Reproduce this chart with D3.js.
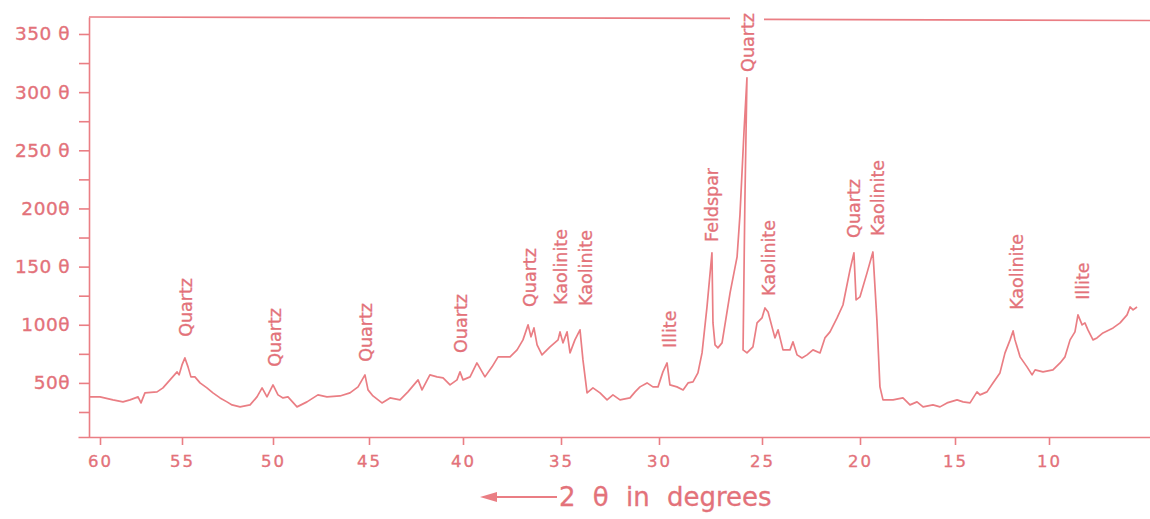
<!DOCTYPE html>
<html>
<head>
<meta charset="utf-8">
<script src="https://cdn.jsdelivr.net/npm/d3@7"></script>
<style>
  body { margin: 0; background: #fff; }
  svg { display: block; }
  .axis path, .axis line { stroke: #ea7e84; stroke-width: 1.6; }
  .axis text { fill: #e3727a; stroke: #e3727a; stroke-width: 0.35; font-family: "DejaVu Sans", sans-serif; }
  .peak { fill: #e3727a; stroke: #e3727a; stroke-width: 0.3; font-family: "DejaVu Sans", sans-serif; font-size: 17.5px; }
  .title { fill: #e3727a; stroke: #e3727a; stroke-width: 0.3; font-family: "DejaVu Sans", sans-serif; font-size: 26px; word-spacing: 9px; }
</style>
</head>
<body>
<svg width="1150" height="519"></svg>
<script>
// **** data ****

var twoTheta = [60.61, 60.0, 59.21, 58.6, 58.17, 57.68, 57.5, 57.26, 56.52, 56.16, 55.73, 55.3, 55.18, 55.0,
    54.84, 54.67, 54.51, 54.29, 54.01, 53.63, 53.3, 52.91, 52.53, 52.25, 51.81, 51.26, 50.88, 50.6, 50.33, 50.0,
    49.74, 49.48, 49.22, 48.75, 48.23, 47.66, 47.19, 46.51, 45.99, 45.57, 45.21, 45.05,
    44.79, 44.31, 43.88, 43.35, 42.93, 42.39, 42.18, 41.76, 41.38, 41.06, 40.69, 40.32, 40.16, 40.0,
    39.64, 39.29, 38.88, 38.52, 38.21, 37.6, 37.24, 36.94, 36.68, 36.53, 36.38, 36.22, 35.97, 35.56, 35.15, 35.05,
    34.9, 34.69, 34.54, 34.29, 34.03, 33.88, 33.67, 33.37, 33.01, 32.65, 32.35, 31.99, 31.48, 31.22, 30.97, 30.61, 30.31, 30.05,
    29.81, 29.61, 29.47, 29.13, 28.83, 28.59, 28.35, 28.11, 27.91, 27.67, 27.43, 27.38, 27.28, 27.14, 26.94, 26.55, 26.21,
    26.07, 25.87, 25.73, 25.83, 25.92, 25.73, 25.44, 25.24, 25.0,
    24.85, 24.69, 24.49, 24.34, 24.18, 23.93, 23.57, 23.42, 23.21, 22.96, 22.7, 22.4, 22.04, 21.79, 21.53, 21.17, 20.87,
    20.51, 20.31, 20.2, 20.0,
    19.63, 19.32, 19.11, 18.95, 18.79, 18.26, 17.74, 17.37, 17.0, 16.68, 16.16, 15.79, 15.42,
    14.89, 14.57, 14.2, 13.83, 13.67, 13.3, 12.98, 12.61, 12.34, 12.07, 11.91, 11.81, 11.54, 11.17, 10.9, 10.74, 10.32,
    9.79, 9.41, 9.15, 8.88, 8.62, 8.46, 8.24, 8.09, 7.93, 7.66, 7.45, 7.13, 6.59, 6.22, 5.85, 5.69, 5.53, 5.32];

var counts = [38, 38, 35.4, 33.7, 35.4, 38, 32.8, 41.4, 42.3, 45.7, 52.6, 59.5, 56.9, 65.5,
    71.5, 63.8, 55.2, 55.2, 50, 45.7, 41.4, 37.1, 33.7, 31.1, 29.4, 31.1, 38, 45.7, 38, 48.3,
    39.7, 37.1, 38, 29.4, 33.7, 39.7, 38, 38.8, 41.4, 46.6, 56.9, 44,
    38.8, 32.8, 37.1, 35.4, 42.3, 52.6, 44, 56.9, 55.2, 54.3, 48.3, 52.6, 59.5, 52.6,
    55.2, 67.2, 55.2, 63.8, 72.4, 72.4, 78.4, 87, 99.9, 89.6, 97.3, 82.7, 74.1, 81, 87, 93.9,
    84.4, 93.9, 75.8, 87, 95.6, 69.8, 41.4, 45.7, 41.4, 35.4, 39.7, 35.4, 37.1, 42.3, 46.6, 50, 46.6, 46.6,
    59.5, 67.2, 48.3, 46.6, 44, 50, 50.9, 58.6, 75.8, 115.3, 161.8, 101.6, 82.7, 80.1, 84.4, 127.4, 158.3,
    194.5, 267.5, 312.3, 207.4, 78.4, 75.8, 81, 101.6, 105.9,
    114.5, 111, 98.2, 88.7, 95.6, 78.4, 78.4, 85.3, 74.1, 71.5, 74.1, 78.4, 75.8, 88.7, 93.9, 105.9, 117,
    147.2, 161.8, 121.4, 124,
    144.6, 162.6, 104.2, 46.6, 35.4, 35.4, 37.1, 31.1, 33.7, 29.4, 31.1, 29.4, 32.8,
    35.4, 33.7, 32.8, 42.3, 39.7, 42.3, 50, 58.6, 75.8, 87, 94.7, 87, 72.4, 63.8, 56.9, 61.2, 59.5,
    61.2, 67.2, 72.4, 87, 93.9, 108.5, 99.9, 101.6, 95.6, 87, 88.7, 93, 97.3, 101.6, 108.5, 115.3, 112.8, 115.3];

var peakNames  = ["Quartz", "Quartz", "Quartz", "Ouartz", "Quartz", "Kaolinite", "Kaolinite", "Illite",
    "Feldspar", "Quartz", "Kaolinite", "Quartz", "Kaolinite", "Kaolinite", "Illite"];
var peakTheta  = [54.77, 49.89, 45.16, 40.11, 36.58, 35.0, 33.72, 29.47, 27.43, 25.68, 24.64, 20.31, 19.05, 11.7, 8.19];
var peakCounts = [89.6, 63.8, 68.1, 75.8, 115.3, 117, 116.2, 80.1, 171.2, 317.4, 124.8, 174.7, 176.4, 112.8, 121.4];

var xTicks = [60, 55, 50, 45, 40, 35, 30, 25, 20, 15, 10];
var yMajor = [50, 100, 150, 200, 250, 300, 350];
var yMajorLabels = ["50θ", "100θ", "150 θ", "200θ", "250 θ", "300 θ", "350 θ"];
var yMinor = [25, 75, 125, 175, 225, 275, 325];

// **** scales (the chart paper is not perfectly even, so x is piecewise) ****

var xScale = d3.scaleLinear()
    .domain([61.34, 60, 55, 50, 45, 40, 35, 30, 25, 20, 15, 10, 4.63])
    .range([78, 100, 182, 273, 369, 463, 561, 659, 762, 860, 955, 1049, 1150]);

var yScale = d3.scaleLinear()
    .domain([3.5, 364.6]).range([437, 17]);

var svg = d3.select('svg');
var ink = '#ea7e84';

// x axis
var xAxis = svg.append('g').attr('class', 'x axis')
    .attr('transform', 'translate(0,' + yScale(3.5) + ')')
    .call(d3.axisBottom(xScale).tickValues(xTicks).tickSize(8).tickSizeOuter(0).tickPadding(10));
xAxis.selectAll('text').style('font-size', '16.5px').style('letter-spacing', '2px');

// y axis with minor ticks
svg.append('g').attr('class', 'y axis')
    .attr('transform', 'translate(89,0)')
    .call(d3.axisLeft(yScale).tickValues(yMinor).tickSize(10).tickSizeOuter(0).tickFormat(''));

var yAxis = svg.append('g').attr('class', 'y axis')
    .attr('transform', 'translate(89,0)')
    .call(d3.axisLeft(yScale).tickValues(yMajor).tickSize(10).tickSizeOuter(0).tickPadding(9)
        .tickFormat(function(d, i) { return yMajorLabels[i]; }));
yAxis.selectAll('text').style('font-size', '18.5px').style('letter-spacing', '0.5px');
yAxis.select('.domain').remove();

// top border, broken for the main quartz label
var topQ = xScale(peakTheta[9]);
svg.append('line')
    .attr('x1', xScale(61.34) + 11).attr('y1', yScale(364.6))
    .attr('x2', topQ - 18).attr('y2', yScale(363.4))
    .attr('stroke', ink).attr('stroke-width', 1.6);
svg.append('line')
    .attr('x1', topQ + 16).attr('y1', yScale(362.6))
    .attr('x2', xScale(4.63)).attr('y2', yScale(361.6))
    .attr('stroke', ink).attr('stroke-width', 1.6);

// diffraction trace
var trace = d3.line()
    .x(function(d, i) { return xScale(twoTheta[i]); })
    .y(function(d) { return yScale(d); });

svg.append('path')
    .datum(counts)
    .attr('d', trace)
    .attr('fill', 'none')
    .attr('stroke', ink)
    .attr('stroke-width', 1.7)
    .attr('stroke-linejoin', 'round');

// mineral labels
svg.selectAll('text.peak')
    .data(peakNames)
    .enter()
    .append('text')
    .attr('class', 'peak')
    .attr('transform', function(d, i) {
        return 'translate(' + xScale(peakTheta[i]) + ',' + yScale(peakCounts[i]) + ') rotate(-90)';
    })
    .attr('dy', '0.36em')
    .text(function(d) { return d; });

// x label with arrow
svg.append('line')
    .attr('x1', 492).attr('y1', 497).attr('x2', 557).attr('y2', 497)
    .attr('stroke', ink).attr('stroke-width', 1.8);
svg.append('path')
    .attr('d', 'M480,497 L497,492 L497,502 Z')
    .attr('fill', ink);
svg.append('text')
    .attr('class', 'title')
    .attr('x', 559).attr('y', 506)
    .text('2 θ in degrees');
</script>
</body>
</html>
